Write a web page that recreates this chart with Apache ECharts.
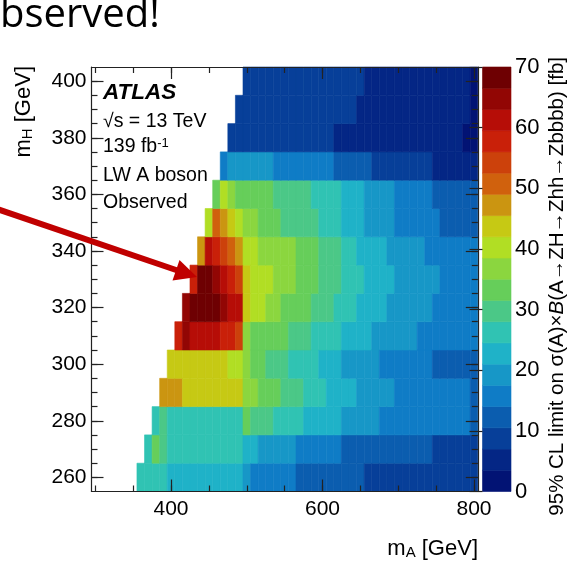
<!DOCTYPE html>
<html>
<head>
<meta charset="utf-8">
<script src="https://cdn.jsdelivr.net/npm/echarts@6/dist/echarts.min.js"></script>
<style>
  html, body { margin: 0; padding: 0; background: #fff; }
  #chart { width: 567px; height: 563px; }
</style>
</head>
<body>
<div id="chart"></div>
<script>
// mH rows (GeV) and the first mA point (GeV) present in each row; points step by 10 GeV in mA
const massH = [260, 270, 280, 290, 300, 310, 320, 330, 340, 350, 360, 370, 380, 390, 400];
const firstMassA = [360, 370, 380, 390, 400, 410, 420, 430, 440, 450, 460, 470, 480, 490, 500];

// Observed 95% CL limits [fb], one array per mH row, starting at firstMassA and running to 800 GeV
const limit260 = [26.9, 27.4, 27.1, 26.2, 24.1, 23.8, 23.6, 23.3, 23.0, 22.7, 22.4, 22.2, 21.9, 21.6, 19.8,
  17.3, 16.9, 16.5, 16.0, 15.6, 15.1, 13.8, 13.5, 13.2, 12.9, 12.6, 12.3, 11.9, 11.5, 11.0,
  10.3, 10.0, 9.8, 9.6, 9.4, 9.2, 9.0, 8.8, 8.6, 8.4, 8.2, 8.0, 7.8, 7.6, 7.4];
const limit270 = [26.6, 32.4, 29.1, 27.9, 27.6, 27.4, 27.1, 26.8, 26.5, 26.2, 25.9, 25.5, 24.9, 23.5, 22.1,
  20.6, 20.1, 19.5, 18.9, 18.3, 17.2, 16.8, 16.3, 15.9, 15.4, 14.9, 13.9, 13.7, 13.4, 13.2,
  12.9, 12.7, 12.4, 12.1, 11.8, 11.5, 11.2, 10.8, 10.2, 9.8, 9.5, 9.1, 8.7, 8.3];
const limit280 = [27.2, 28.6, 27.8, 27.6, 27.4, 27.2, 27.0, 26.8, 26.6, 26.3, 26.0, 25.6, 32.0, 30.9, 29.9,
  28.4, 27.4, 26.6, 25.7, 24.9, 24.0, 23.3, 22.6, 21.9, 21.3, 20.6, 19.9, 19.3, 18.6, 17.9,
  17.2, 17.0, 16.7, 16.5, 16.2, 15.9, 15.6, 15.3, 15.0, 14.7, 14.4, 14.2, 13.6];
const limit290 = [48.1, 47.6, 46.2, 45.2, 44.9, 44.6, 44.3, 44.0, 43.6, 43.1, 42.6, 37.9, 36.2, 34.4, 33.6,
  32.5, 30.9, 29.8, 28.6, 27.6, 26.4, 25.2, 24.2, 23.3, 22.4, 21.4, 20.6, 19.9, 19.2, 18.5,
  17.8, 17.2, 16.9, 16.6, 16.3, 16.0, 15.7, 15.4, 15.1, 14.8, 14.4, 13.7];
const limit300 = [44.6, 44.9, 45.1, 45.0, 44.8, 44.5, 44.1, 43.3, 41.6, 39.8, 37.1, 34.6, 33.0, 31.1, 30.0,
  28.7, 27.7, 26.8, 25.9, 24.9, 23.9, 22.9, 21.7, 20.8, 20.0, 19.2, 18.4, 17.7, 17.1, 16.7,
  16.3, 15.9, 15.5, 15.0, 14.5, 13.8, 13.4, 13.0, 12.6, 12.2, 11.8];
const limit310 = [58.4, 64.1, 62.7, 62.2, 61.5, 59.6, 58.9, 57.6, 55.1, 37.4, 34.8, 34.1, 33.4, 32.6, 31.8,
  30.6, 29.7, 28.6, 27.8, 26.9, 26.0, 24.9, 24.2, 23.4, 22.6, 21.7, 20.8, 20.2, 19.6, 19.0,
  18.4, 17.8, 17.3, 16.9, 16.5, 16.1, 15.7, 15.3, 14.9, 14.4];
const limit320 = [65.9, 68.8, 69.4, 69.1, 67.9, 65.2, 62.4, 61.2, 43.2, 41.0, 39.6, 38.0, 36.4, 34.6, 33.8,
  32.9, 31.8, 30.8, 29.7, 28.5, 27.6, 26.4, 25.1, 24.2, 23.3, 22.5, 21.6, 20.8, 20.2, 19.6,
  19.0, 18.4, 17.8, 17.2, 16.7, 16.2, 15.7, 15.2, 14.7];
const limit330 = [59.0, 68.9, 68.1, 65.4, 62.6, 59.3, 54.8, 44.9, 41.6, 40.5, 39.2, 38.1, 37.0, 35.8, 34.5,
  33.2, 31.9, 30.8, 29.7, 28.6, 27.6, 26.3, 25.0, 24.3, 23.4, 22.5, 21.5, 20.8, 20.2, 19.6,
  19.0, 18.3, 17.7, 17.1, 16.6, 16.0, 15.4, 14.8];
const limit340 = [48.4, 61.8, 58.6, 55.6, 51.5, 47.9, 41.4, 40.2, 38.2, 37.6, 36.9, 36.2, 35.4, 34.3, 33.2,
  31.9, 30.9, 29.6, 28.4, 27.3, 25.6, 24.3, 23.4, 22.6, 21.6, 20.8, 20.0, 19.2, 18.5, 17.8,
  17.2, 16.8, 16.4, 16.0, 15.6, 15.1, 14.6];
const limit350 = [40.8, 52.2, 48.6, 44.4, 40.6, 37.8, 36.6, 34.6, 33.5, 32.2, 30.9, 30.3, 29.7, 28.9, 28.1,
  27.4, 26.3, 25.0, 24.1, 23.0, 21.8, 20.8, 19.9, 19.0, 18.0, 17.2, 16.7, 16.2, 15.7, 15.1,
  14.5, 13.8, 13.2, 12.6, 12.0, 11.4];
const limit360 = [34.2, 40.1, 37.2, 34.9, 34.4, 33.8, 33.1, 32.2, 31.2, 30.6, 29.9, 29.1, 28.2, 27.6, 26.7,
  25.8, 24.8, 24.0, 22.9, 21.8, 20.8, 19.9, 19.0, 18.0, 17.1, 16.5, 15.9, 15.2, 14.5, 13.8,
  13.3, 12.8, 12.3, 11.8, 11.2];
const limit370 = [17.1, 18.4, 18.9, 19.2, 19.0, 18.6, 18.1, 17.3, 16.9, 16.6, 16.2, 15.8, 15.4, 15.0, 14.5,
  13.8, 13.2, 12.6, 12.0, 11.3, 10.4, 10.0, 9.6, 9.2, 8.8, 8.4, 8.0, 7.5, 6.8, 6.4,
  6.0, 5.6, 5.2, 4.8];
const limit380 = [10.3, 10.2, 10.1, 10.0, 9.9, 9.7, 9.5, 9.3, 9.1, 8.9, 8.6, 8.3, 8.0, 7.6, 6.9,
  6.7, 6.5, 6.3, 6.1, 5.9, 5.7, 5.5, 5.3, 5.1, 4.9, 4.7, 4.5, 4.3, 4.1, 3.9,
  3.7, 3.3, 3.0];
const limit390 = [10.4, 10.3, 10.2, 10.1, 10.0, 9.9, 9.7, 9.5, 9.3, 9.1, 8.9, 8.7, 8.4, 8.1, 7.8,
  7.4, 6.9, 6.7, 6.5, 6.3, 6.1, 5.9, 5.7, 5.4, 5.1, 4.8, 4.6, 4.4, 4.2, 4.0,
  3.7, 3.2];
const limit400 = [10.4, 10.3, 10.2, 10.1, 10.0, 9.9, 9.7, 9.5, 9.3, 9.1, 8.9, 8.6, 8.3, 8.0, 7.7,
  7.3, 6.9, 6.7, 6.5, 6.3, 6.1, 5.8, 5.5, 5.2, 4.9, 4.7, 4.5, 4.2, 3.9, 3.6,
  3.2];
const limitRows = [limit260, limit270, limit280, limit290, limit300, limit310, limit320, limit330,
  limit340, limit350, limit360, limit370, limit380, limit390, limit400];

// Colour scale: 20 contour levels from 0 to 70 fb
const contourEdges = [0, 3.5, 7, 10.5, 14, 17.5, 21, 24.5, 28, 31.5, 35, 38.5, 42, 45.5, 49, 52.5, 56, 59.5, 63, 66.5, 70];
const palette = ['#021374', '#042685', '#073f99', '#0b5daf', '#0f7cc6', '#1797c7', '#1fb2c8', '#30c3b3',
  '#4bc887', '#66ce5a', '#8bd63f', '#b1de24', '#c6c914', '#cb9511', '#d0610d', '#cc410b',
  '#c92009', '#b60d07', '#920604', '#6e0002'];

// Axis ticks and labels
const xLabelValues = [400, 600, 800];
const xMinorTicks = [300, 350, 400, 450, 500, 550, 600, 650, 700, 750, 800];
const yLabelValues = [260, 280, 300, 320, 340, 360, 380, 400];
const yMinorTicks = [260, 265, 270, 275, 280, 285, 290, 295, 300, 305, 310, 315, 320, 325, 330, 335,
  340, 345, 350, 355, 360, 365, 370, 375, 380, 385, 390, 395, 400];

const BIN = 10; // cell size in GeV along both masses
const FONT = "'Liberation Sans', Arial, Helvetica, sans-serif";

function levelColor(v) {
  for (let i = 0; i < palette.length; i++) {
    if (v < contourEdges[i + 1]) return palette[i];
  }
  return palette[palette.length - 1];
}

const cells = [];
massH.forEach((mh, r) => {
  limitRows[r].forEach((v, j) => {
    cells.push([firstMassA[r] + BIN * j, mh, v]);
  });
});
const colorBins = palette.map((c, i) => [contourEdges[i], contourEdges[i + 1], i]);

const X_MIN = 295, X_MAX = 805, Y_MIN = 255, Y_MAX = 405;

function xAxisDef(position, tickValues, tickLen, withLabels, withLine) {
  return {
    type: 'value', gridIndex: 0, position: position, min: X_MIN, max: X_MAX, z: 10,
    axisLine: { show: withLine, lineStyle: { color: '#222', width: 1.2 } },
    axisTick: { show: true, inside: true, length: tickLen, customValues: tickValues,
      lineStyle: { color: '#222', width: 1.2 } },
    axisLabel: withLabels
      ? { show: true, customValues: xLabelValues, color: '#000', fontSize: 21, fontFamily: FONT, margin: 7 }
      : { show: false },
    splitLine: { show: false }
  };
}
function yAxisDef(position, tickValues, tickLen, withLabels, withLine) {
  return {
    type: 'value', gridIndex: 0, position: position, min: Y_MIN, max: Y_MAX, z: 10,
    axisLine: { show: withLine, lineStyle: { color: '#222', width: 1.2 } },
    axisTick: { show: true, inside: true, length: tickLen, customValues: tickValues,
      lineStyle: { color: '#222', width: 1.2 } },
    axisLabel: withLabels
      ? { show: true, customValues: yLabelValues, color: '#000', fontSize: 21, fontFamily: FONT, margin: 5 }
      : { show: false },
    splitLine: { show: false }
  };
}

const chart = echarts.init(document.getElementById('chart'), null, { renderer: 'canvas' });

const option = {
  animation: false,
  backgroundColor: '#fff',
  grid: [
    { left: 91.5, top: 67, width: 386.3, height: 424.5, containLabel: false, outerBoundsMode: 'none' },
    { left: 482.5, top: 67, width: 28.5, height: 424.5, containLabel: false, outerBoundsMode: 'none' }
  ],
  xAxis: [
    xAxisDef('bottom', xLabelValues, 12, true, true),
    xAxisDef('bottom', xMinorTicks, 6, false, false),
    xAxisDef('top', xLabelValues, 12, false, true),
    xAxisDef('top', xMinorTicks, 6, false, false),
    { type: 'value', gridIndex: 1, min: 0, max: 1, show: false }
  ],
  yAxis: [
    yAxisDef('left', yLabelValues, 12, true, true),
    yAxisDef('left', yMinorTicks, 6, false, false),
    yAxisDef('right', yLabelValues, 12, false, true),
    yAxisDef('right', yMinorTicks, 6, false, false),
    {
      type: 'value', gridIndex: 1, position: 'right', min: 0, max: 70, interval: 10, z: 10,
      axisLine: { show: false },
      axisTick: { show: true, inside: true, length: 13, lineStyle: { color: '#222', width: 1.2 } },
      axisLabel: { show: true, color: '#000', fontSize: 22, fontFamily: FONT, margin: 4 },
      splitLine: { show: false }
    }
  ],
  series: [
    {
      name: 'observed limit',
      type: 'custom',
      xAxisIndex: 0,
      yAxisIndex: 0,
      silent: true,
      encode: { x: 0, y: 1 },
      data: cells,
      renderItem: function (params, api) {
        const x = api.value(0), y = api.value(1), v = api.value(2);
        const p0 = api.coord([x - BIN / 2, y + BIN / 2]);
        const p1 = api.coord([x + BIN / 2, y - BIN / 2]);
        const c = levelColor(v);
        return {
          type: 'rect',
          shape: { x: p0[0], y: p0[1], width: p1[0] - p0[0], height: p1[1] - p0[1] },
          style: { fill: c, stroke: c, lineWidth: 0.6 }
        };
      }
    },
    {
      name: 'colour scale',
      type: 'custom',
      xAxisIndex: 4,
      yAxisIndex: 4,
      silent: true,
      encode: { y: [0, 1] },
      data: colorBins,
      renderItem: function (params, api) {
        const lo = api.value(0), hi = api.value(1), idx = api.value(2);
        const p0 = api.coord([0, hi]);
        const p1 = api.coord([1, lo]);
        const c = palette[idx];
        return {
          type: 'rect',
          shape: { x: p0[0], y: p0[1], width: p1[0] - p0[0], height: p1[1] - p0[1] },
          style: { fill: c, stroke: c, lineWidth: 0.6 }
        };
      }
    }
  ],
  graphic: [
    // slide caption above the figure
    { type: 'text', x: 0, y: 16, style: { text: 'bserved!', fill: '#000', fontSize: 40,
      fontFamily: "'Open Sans', 'Noto Sans', sans-serif", align: 'left', verticalAlign: 'middle' } },
    // axis titles
    { type: 'text', x: 24, y: 66, rotation: Math.PI / 2, z: 20,
      style: { text: 'm{sub|H} [GeV]', fill: '#000', fontSize: 22, fontFamily: FONT,
        align: 'right', verticalAlign: 'middle',
        rich: { sub: { fontSize: 15, fontFamily: FONT, verticalAlign: 'bottom', lineHeight: 12, padding: [8, 0, 0, 0] } } } },
    { type: 'text', x: 478, y: 549, z: 20,
      style: { text: 'm{sub|A} [GeV]', fill: '#000', fontSize: 22, fontFamily: FONT,
        align: 'right', verticalAlign: 'middle',
        rich: { sub: { fontSize: 15, fontFamily: FONT, verticalAlign: 'bottom', lineHeight: 12, padding: [8, 0, 0, 0] } } } },
    { type: 'text', x: 557, y: 57, rotation: Math.PI / 2, z: 20,
      style: { text: '95% CL limit on σ(A)×{it|B}(A→ZH→Zhh→Zbbbb) [fb]', fill: '#000', fontSize: 20.5,
        fontFamily: FONT, align: 'right', verticalAlign: 'middle',
        rich: { it: { fontSize: 20.5, fontStyle: 'italic', fontFamily: FONT } } } },
    // experiment label block
    { type: 'text', x: 103, y: 93, z: 20,
      style: { text: 'ATLAS', fill: '#000', fontSize: 22.5, fontWeight: 'bold', fontStyle: 'italic',
        fontFamily: FONT, align: 'left', verticalAlign: 'middle' } },
    { type: 'text', x: 103, y: 122, z: 20,
      style: { text: '√s = 13 TeV', fill: '#000', fontSize: 19.5, fontFamily: FONT, align: 'left', verticalAlign: 'middle' } },
    { type: 'text', x: 103, y: 147, z: 20,
      style: { text: '139 fb{sup|-1}', fill: '#000', fontSize: 19.5, fontFamily: FONT, align: 'left', verticalAlign: 'middle',
        rich: { sup: { fontSize: 13, fontFamily: FONT, verticalAlign: 'top', lineHeight: 12, padding: [0, 0, 8, 0] } } } },
    { type: 'text', x: 103, y: 175.5, z: 20,
      style: { text: 'LW A boson', fill: '#000', fontSize: 19.5, fontFamily: FONT, align: 'left', verticalAlign: 'middle' } },
    { type: 'text', x: 103, y: 202.5, z: 20,
      style: { text: 'Observed', fill: '#000', fontSize: 19.5, fontFamily: FONT, align: 'left', verticalAlign: 'middle' } },
    // pointer arrow
    { type: 'line', z: 30, shape: { x1: -5, y1: 208.3, x2: 179, y2: 271 },
      style: { stroke: '#c00000', lineWidth: 6 } },
    { type: 'polygon', z: 30, shape: { points: [[197, 277], [172.5, 280.5], [179.5, 260]] },
      style: { fill: '#c00000' } }
  ]
};

chart.setOption(option);
</script>
</body>
</html>
